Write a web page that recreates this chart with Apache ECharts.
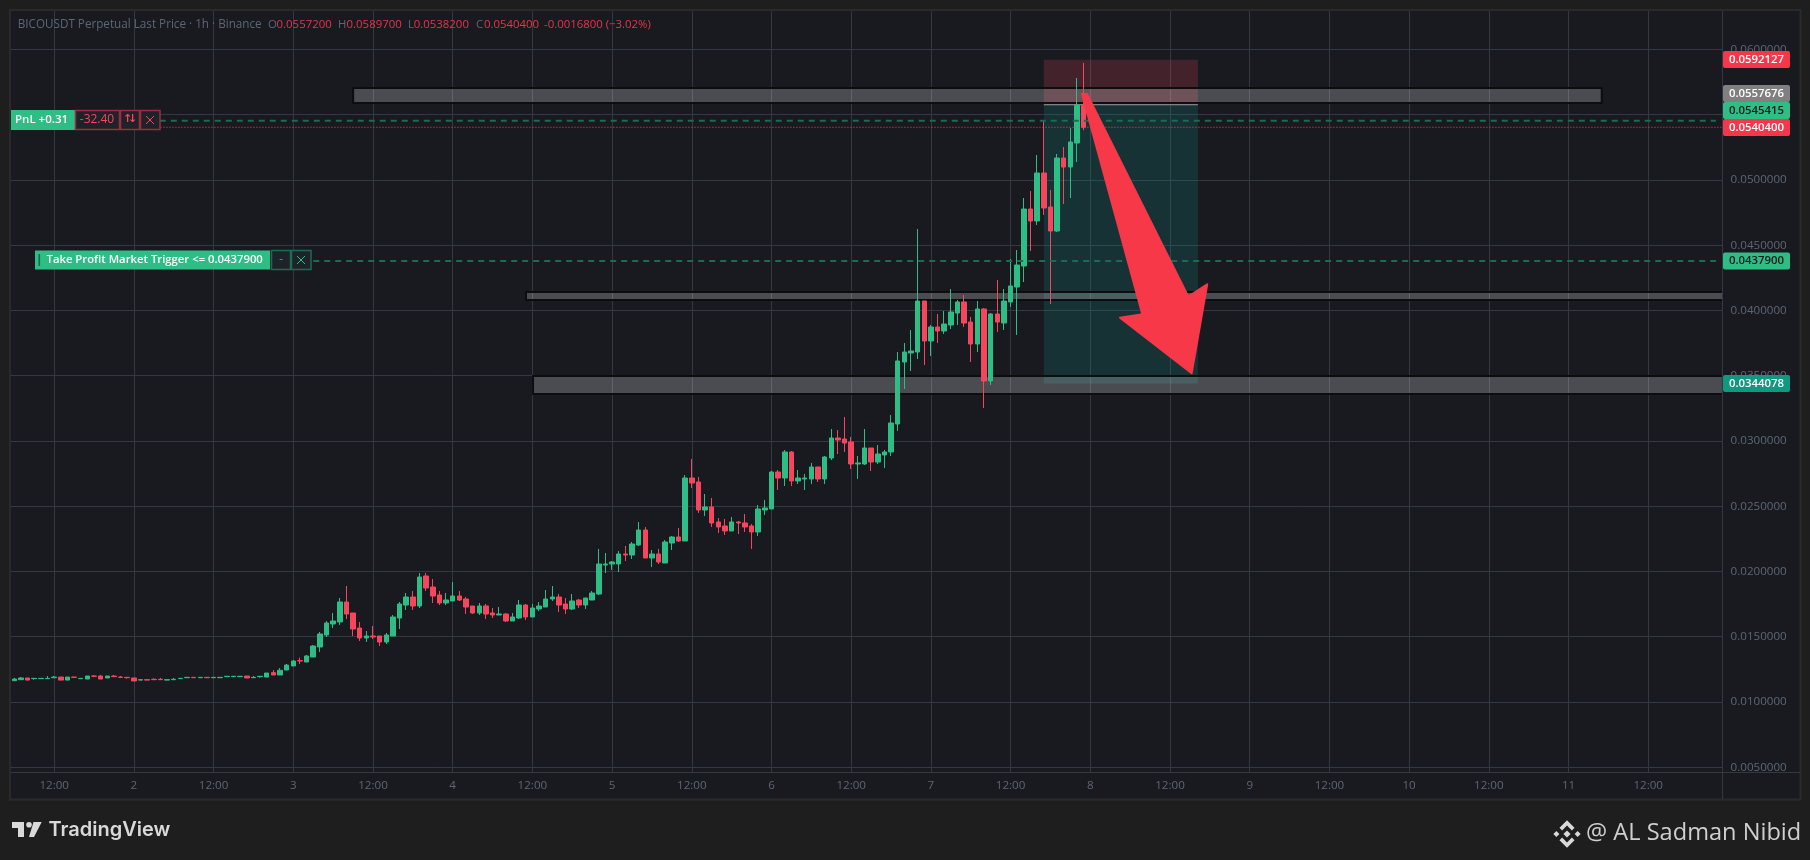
<!DOCTYPE html>
<html><head><meta charset="utf-8">
<style>html,body{margin:0;padding:0;background:#1e1e1e}#c{width:1810px;height:860px}</style>
<script src="https://cdn.jsdelivr.net/npm/echarts@6/dist/echarts.min.js"></script>
</head><body><div id="c"></div>
<script>
const opens=[.01163,.01171,.01184,.01179,.01179,.01179,.01186,.01191,.01168,.01191,.01179,.01176,.01199,.01199,.01184,.01199,.01191,.01189,.01184,.01168,.01171,.01174,.01174,.01168,.01171,.01179,.01186,.01189,.01186,.01189,.01186,.01186,.01194,.01194,.01194,.01199,.01186,.01194,.01191,.01225,.01207,.01245,.01276,
.013167,.013065,.013448,.014215,.015134,.015977,.016130,.017662,.016820,.015670,.014904,.015057,.015057,.014598,.015057,.016437,.017432,.018045,.017356,.019654,.018812,.018199,.017586,.017739,.018122,.017892,.017356,.016820,.017356,.016820,.016666,.016743,.016206,.016437,.017432,.016513,.017126,.017279,.017892,.018045,.017509,.017126,.017816,.017432,.017816,.018275,.020498,.020574,.020574,.021340,.021264,.022030,.023179,.021034,.021340,.020651,.022183,.022643,.022338,.027165,.026859,.024713,.024943,.023794,.023487,.023105,.023794,.023718,.023487,.023028,.024713,.024790,.027625,.027165,.029157,.026935,.027089,.027089,.028008,.027089,.028698,.030230,.030153,.029924,.028238,.028238,.029464,.028391,.028928,.029157,.031302,.036054,.036744,.036820,.040728,.037663,.038736,.038429,.038889,.039808,.040651,.039119,.037433,.040115,.034598,.039732,.039042,.040651,.041800,.043409,.047777,.046858,.050536,.047931,.046091,.051685,.050996,.052835,.05572];
const closes=[.01176,.01184,.01168,.01181,.01181,.01181,.01191,.01168,.01191,.01189,.01181,.01199,.01197,.01176,.01199,.01194,.01189,.01186,.01161,.01171,.01168,.01171,.01171,.01171,.01174,.01181,.01189,.01186,.01189,.01186,.01189,.01189,.01197,.01197,.01197,.01184,.01189,.01197,.01222,.01207,.01243,.01283,.01314,
.013142,.013525,.014291,.015211,.016053,.016206,.017662,.016743,.015594,.014904,.015057,.014981,.014598,.015134,.016513,.017509,.018045,.017356,.019578,.018735,.018122,.017586,.017816,.018122,.017816,.017279,.016820,.017356,.016743,.016666,.016743,.016206,.016513,.017432,.016513,.017203,.017356,.017892,.018045,.017432,.017126,.017739,.017432,.017969,.018352,.020574,.020574,.020728,.021340,.021264,.022107,.023179,.021034,.021340,.020728,.022260,.022643,.022337,.027165,.026782,.024713,.024943,.023718,.023411,.023105,.023794,.023718,.023411,.023028,.024790,.024867,.027625,.027165,.029157,.026935,.027165,.027165,.028008,.027089,.028774,.030230,.030077,.029847,.028238,.028315,.029464,.028391,.029004,.029157,.031379,.036131,.036820,.036897,.040728,.037663,.038736,.038429,.038966,.039885,.040651,.039042,.037433,.040115,.034598,.039732,.039119,.040728,.041877,.043486,.047777,.046858,.050536,.047854,.046091,.051685,.050996,.052912,.05572,.05404];
const highs=[.01184,.01191,.01184,.01181,.01181,.01199,.01199,.01191,.01191,.01191,.01181,.01199,.01207,.01207,.01199,.01207,.01199,.01189,.01184,.01171,.01171,.01181,.01184,.01171,.01184,.01181,.01189,.01189,.01189,.01189,.01189,.01189,.01197,.01197,.01197,.01199,.01199,.01197,.01222,.01245,.01260,.01291,.01322,
.013397,.013602,.014368,.015364,.016206,.016820,.017969,.018888,.016820,.016130,.015440,.015824,.015057,.015287,.016666,.017662,.018352,.018505,.019884,.019884,.019425,.018505,.018352,.019195,.018505,.018045,.017356,.017586,.017509,.017203,.017279,.016820,.016820,.017816,.017509,.017509,.017662,.018582,.018888,.018275,.017969,.018275,.017892,.017969,.018505,.021723,.021417,.020804,.021570,.021953,.022260,.023792,.023409,.021647,.021724,.022413,.022720,.023333,.027395,.028621,.027242,.025939,.025633,.024101,.024024,.024177,.023871,.024407,.023641,.025097,.025480,.027702,.027778,.029311,.029234,.027778,.027472,.028315,.028008,.028851,.030920,.030843,.031839,.030307,.028851,.030920,.029464,.029694,.029311,.031992,.036820,.037510,.038506,.046244,.040728,.038889,.039732,.039962,.041647,.040804,.041188,.039502,.040728,.040192,.039808,.042337,.041647,.043946,.044635,.048620,.049157,.051915,.054597,.049233,.051992,.052528,.053984,.057816,.05897];
const lows=[.01163,.01171,.01168,.01171,.01179,.01179,.01186,.01168,.01168,.01189,.01179,.01176,.01191,.01176,.01184,.01194,.01184,.01179,.01161,.01168,.01168,.01168,.01171,.01168,.01168,.01179,.01186,.01186,.01186,.01186,.01186,.01186,.01194,.01194,.01194,.01184,.01186,.01186,.01191,.01207,.01207,.01245,.01276,
.012912,.013065,.013448,.013831,.014981,.015670,.015900,.016360,.015057,.014674,.014598,.014828,.014291,.014444,.015057,.015594,.017049,.017049,.017203,.018505,.017586,.017432,.017432,.017739,.017739,.016743,.016743,.016666,.016360,.016437,.016666,.016130,.016206,.016360,.016283,.016513,.016973,.017279,.017739,.016896,.016743,.017049,.017203,.017126,.017816,.018199,.019885,.020115,.019961,.020804,.020957,.021953,.021034,.020344,.020574,.020651,.021647,.022260,.022338,.026399,.024484,.024254,.023411,.022951,.022798,.023105,.022875,.023028,.021725,.022721,.024330,.024790,.026246,.026552,.026552,.026706,.026246,.026706,.026859,.026706,.028544,.029004,.029157,.027855,.027089,.028161,.027702,.028238,.027932,.028851,.030765,.033985,.035364,.036284,.035824,.036514,.037510,.038199,.038582,.038889,.038736,.036054,.036820,.032529,.034292,.038353,.038506,.040268,.038123,.042183,.044559,.046551,.047318,.040497,.046015,.048160,.048620,.051379,.05382];

const priceTicks=[.005,.01,.015,.02,.025,.03,.035,.04,.045,.05,.055,.06];
// hours since the first candle (day 1, 06:00) and what the time axis prints there
const timeTicks=[6,18,30,42,54,66,78,90,102,114,126,138,150,162,174,186,198,210,222,234,246];
const timeLabels=['12:00','2','12:00','3','12:00','4','12:00','5','12:00','6','12:00','7','12:00','8','12:00','9','12:00','10','12:00','11','12:00'];
const hourSlots=[];for(let i=0;i<258;i++)hourSlots.push(String(i));

// [hour start, hour end, price top, price bottom]
const zones=[[51.02,239,.05705,.0559],[77.04,258,.041417,.040804],[78.1,258,.03498,.033601]];
const stopBox=[155,178.2,.0592127,.0557676];
const targetBox=[155,178.2,.0557676,.0344078];
// [hour, price]
const arrowShape=[[160.75,.05659],[161.5,.05659],[176.75,.041057],[179.6,.042007],[177.26,.035187],[166.47,.039448],[169.83,.039708]];
const entryPrice=.0557676,posPrice=.0545415,lastPrice=.05404,tpPrice=.04379;

const UP='#2ebd85',DOWN='#f6465d',GRID='#333845',AXT='#5e6673',PANE='#181a20';
const F='"Open Sans","Noto Sans",sans-serif';

const chart=echarts.init(document.getElementById('c'));
function rectSeries(rows,fill,stroke,z){
  return {type:'custom',xAxisIndex:1,yAxisIndex:0,z,silent:true,data:rows,clip:true,
    renderItem(p,api){
      const a=api.coord([api.value(0),api.value(2)]),b=api.coord([api.value(1),api.value(3)]);
      return {type:'rect',shape:{x:a[0],y:a[1],width:b[0]-a[0],height:b[1]-a[1]},
        style:{fill,stroke:stroke||null,lineWidth:stroke?2:0}};
    }};
}
function hLine(h0,h1,price,color,dash,z,width){
  return {type:'line',xAxisIndex:1,yAxisIndex:0,z,silent:true,showSymbol:false,symbol:'none',
    data:[[h0,price],[h1,price]],lineStyle:{color,width:width||1,type:dash},animation:false};
}
function tag(y,text,bg,fg){
  return [{type:'rect',z:20,shape:{x:1723,y:y-8.5,width:67,height:17,r:2},style:{fill:bg}},
   {type:'text',z:21,style:{x:1756.5,y,text,fill:fg,font:'600 11.4px '+F,textAlign:'center',textVerticalAlign:'middle'}}];
}
function box(x,y,w,h,stroke){return {type:'rect',z:20,shape:{x:x+.5,y:y+.5,width:w-1,height:h-1},style:{fill:'#1e2329',stroke,lineWidth:1.5}};}
function txt(x,y,text,fill,font,al){return {type:'text',z:21,style:{x,y,text,fill,font:font||('11.4px '+F),textAlign:al||'left',textVerticalAlign:'middle'}};}
function cross(cx,cy,color){return [
  {type:'line',z:21,shape:{x1:cx-4,y1:cy-4,x2:cx+4,y2:cy+4},style:{stroke:color,lineWidth:1}},
  {type:'line',z:21,shape:{x1:cx-4,y1:cy+4,x2:cx+4,y2:cy-4},style:{stroke:color,lineWidth:1}}];}
function diamond(cx,cy,r){return {type:'polygon',z:20,shape:{points:[[cx,cy-r],[cx+r,cy],[cx,cy+r],[cx-r,cy]]},style:{fill:'#d9d9d9'}};}
const RB='#9c2c3e',GB='#1c6b55',HG='#5e6673',HR='#e8354a',HF='11.4px '+F;
const cxB=1567,cyB=834;
const graphics=[
 {type:'rect',z:-10,shape:{x:10,y:10,width:1790.5,height:789.5},style:{fill:PANE,stroke:'#2a2a2a',lineWidth:2}},
 {type:'rect',z:5,shape:{x:1723,y:11,width:3,height:761},style:{fill:PANE}},
 {type:'line',z:6,shape:{x1:1722.5,y1:11,x2:1722.5,y2:799},style:{stroke:GRID,lineWidth:1}},
 {type:'line',z:6,shape:{x1:11,y1:772.5,x2:1800,y2:772.5},style:{stroke:GRID,lineWidth:1}},
 txt(17.7,24.5,'BICOUSDT Perpetual Last Price · 1h · Binance',HG,'11.7px '+F),
 txt(268,24.5,'O',HG,HF),txt(276.6,24.5,'0.0557200',HR,HF),
 txt(338,24.5,'H',HG,HF),txt(346.6,24.5,'0.0589700',HR,HF),
 txt(408,24.5,'L',HG,HF),txt(413.8,24.5,'0.0538200',HR,HF),
 txt(476,24.5,'C',HG,HF),txt(484,24.5,'0.0540400',HR,HF),
 txt(544,24.5,'-0.0016800 (−3.02%)',HR,HF),
 ...tag(59.5,'0.0592127','#f6374b','#fff'),
 ...tag(93.5,'0.0557676','#808080','#fff'),
 ...tag(110.5,'0.0545415',UP,'#16191d'),
 ...tag(127.5,'0.0540400','#f6374b','#fff'),
 ...tag(261,'0.0437900',UP,'#16191d'),
 ...tag(383.5,'0.0344078','#0e9a80','#fff'),
 {type:'rect',z:20,shape:{x:11,y:110,width:64,height:20},style:{fill:UP}},
 txt(15,120,'PnL +0.31','#fff','600 11.5px '+F),
 box(75,110,45,20,RB),txt(97,120,'-32.40','#f6465d','12px '+F,'center'),
 box(120,110,20,20,RB),
 txt(127.5,119.5,'↑','#f6465d','bold 11px "DejaVu Sans"','center'),
 txt(132.5,119.5,'↓','#f6465d','bold 11px "DejaVu Sans"','center'),
 box(140,110,20.5,20,RB),...cross(150,120,'#f6465d'),
 {type:'rect',z:20,shape:{x:35,y:250.5,width:235,height:19},style:{fill:UP}},
 {type:'rect',z:21,shape:{x:38.5,y:254,width:1.6,height:12},style:{fill:'#136b4d'}},
 txt(46.5,259.5,'Take Profit Market Trigger <= 0.0437900','#fff','600 11.3px '+F),
 box(271,250,20,20,GB),txt(281,259,'-',UP,null,'center'),
 box(291,250,20.5,20,GB),...cross(301,260,UP),
 // TradingView mark
 {type:'polygon',z:20,shape:{points:[[12,822],[24,822],[24,837],[18,837],[18,828],[12,828]]},style:{fill:'#d9d9d9'}},
 {type:'circle',z:20,shape:{cx:29,cy:824.7,r:2.8},style:{fill:'#d9d9d9'}},
 {type:'polygon',z:20,shape:{points:[[33.5,822],[41.7,822],[34,837],[29,837]]},style:{fill:'#d9d9d9'}},
 txt(48.5,829.5,'TradingView','#d9d9d9','600 20px Inter,'+F),
 // Binance mark
 diamond(cxB,cyB,3.6),diamond(cxB-10.6,cyB,3),diamond(cxB+10.6,cyB,3),
 {type:'polygon',z:20,shape:{points:[[cxB,cyB-13.7],[cxB+7.5,cyB-6.2],[cxB+4.9,cyB-3.6],[cxB,cyB-8.5],[cxB-4.9,cyB-3.6],[cxB-7.5,cyB-6.2]]},style:{fill:'#d9d9d9'}},
 {type:'polygon',z:20,shape:{points:[[cxB,cyB+13.7],[cxB+7.5,cyB+6.2],[cxB+4.9,cyB+3.6],[cxB,cyB+8.5],[cxB-4.9,cyB+3.6],[cxB-7.5,cyB+6.2]]},style:{fill:'#d9d9d9'}},
 txt(1586,833,'@ AL Sadman Nibid','#cfcfcf','23.6px "Open Sans",'+F)
];

chart.setOption({
  animation:false,backgroundColor:'transparent',
  grid:{left:11,top:11,width:1713.6,height:761.3,containLabel:false},
  xAxis:[
   {type:'category',data:hourSlots,boundaryGap:true,show:false},
   {type:'value',min:-0.5,max:257.5,position:'bottom',
    axisLine:{show:false},
    axisTick:{show:false,customValues:timeTicks},
    splitLine:{show:true,lineStyle:{color:GRID,width:1}},
    axisLabel:{customValues:timeTicks,color:AXT,fontFamily:F,fontSize:11.6,margin:7,showMinLabel:true,showMaxLabel:true,
      formatter:v=>timeLabels[timeTicks.indexOf(v)]}}
  ],
  yAxis:[{type:'value',position:'right',min:.004612,max:.06295,scale:true,
    axisLine:{show:false},axisTick:{show:false,customValues:priceTicks},
    splitLine:{show:true,lineStyle:{color:GRID,width:1}},
    axisLabel:{customValues:priceTicks,color:AXT,fontFamily:F,fontSize:11.6,margin:6,formatter:v=>v.toFixed(7)}}],
  graphic:{elements:graphics},
  series:[
    rectSeries([stopBox],'rgba(246,70,93,.2)',null,1),
    rectSeries([targetBox],'rgba(18,151,142,.2)',null,1),
    hLine(155,178.2,entryPrice,'#9a9a9a','solid',1),
    rectSeries(zones,'rgba(255,255,255,.22)','#0c0d0f',1),
    {type:'candlestick',xAxisIndex:0,yAxisIndex:0,z:3,barWidth:5,silent:true,
     data:opens.map((o,i)=>[o,closes[i],lows[i],highs[i]]),
     itemStyle:{color:UP,color0:DOWN,borderColor:UP,borderColor0:DOWN,borderColorDoji:UP,borderWidth:1}},
    hLine(21.9,256.2,posPrice,'#1b6b52',[6,5],4,2),
    hLine(22,257.3,lastPrice,'#f6465d',[1,2],4),
    hLine(45,256.2,tpPrice,'#1b6b52',[6,5],4,2),
    {type:'custom',xAxisIndex:1,yAxisIndex:0,z:6,silent:true,clip:false,data:[0],
     renderItem(p,api){
       return {type:'polygon',shape:{points:arrowShape.map(q=>api.coord(q))},
        style:{fill:'#f63849',stroke:'#f63849',lineWidth:2,lineJoin:'round'}};
     }}
  ]
});
</script></body></html>
